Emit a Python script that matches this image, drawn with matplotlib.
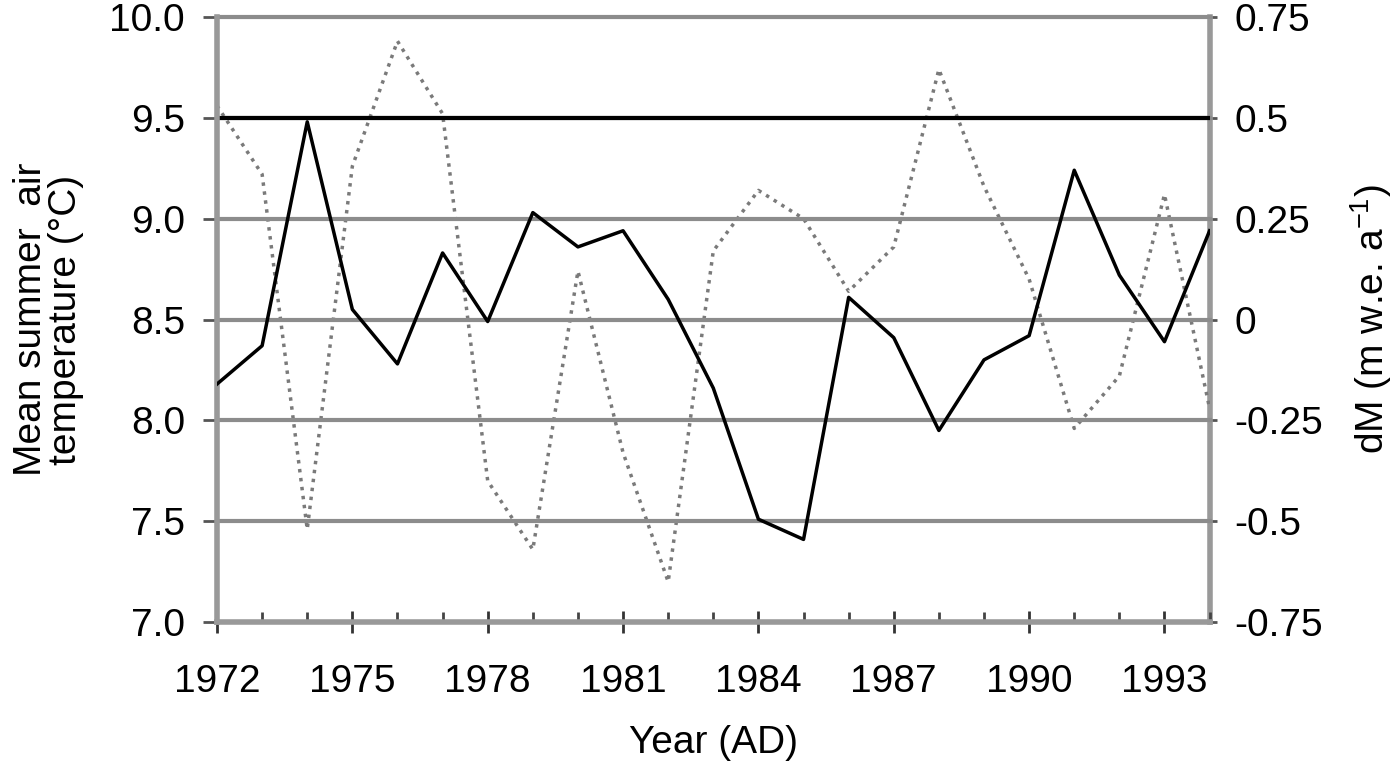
import matplotlib
matplotlib.use("Agg")
import matplotlib.pyplot as plt

# -----------------------------
# DATA
# -----------------------------
years = list(range(1972, 1995))

# mean summer air temperature (deg C), left axis
temperature = [8.18, 8.37, 9.48, 8.55, 8.28, 8.83, 8.49, 9.03, 8.86, 8.94,
               8.60, 8.16, 7.51, 7.41, 8.61, 8.41, 7.95, 8.30, 8.42, 9.24,
               8.72, 8.39, 8.94]

# mass balance dM (m w.e. a-1), right axis
mass_balance = [0.53, 0.36, -0.52, 0.38, 0.69, 0.51, -0.40, -0.57, 0.12, -0.33,
                -0.65, 0.17, 0.32, 0.25, 0.07, 0.18, 0.62, 0.33, 0.10, -0.27,
                -0.14, 0.31, -0.22]

year_ticks = [1972, 1975, 1978, 1981, 1984, 1987, 1990, 1993]
temp_ticks = [7.0, 7.5, 8.0, 8.5, 9.0, 9.5, 10.0]
dm_ticks = [-0.75, -0.5, -0.25, 0, 0.25, 0.5, 0.75]
dm_labels = ["-0.75", "-0.5", "-0.25", "0", "0.25", "0.5", "0.75"]
highlight_temp = 9.5

# -----------------------------
# STYLE
# -----------------------------
plt.rcParams['font.family'] = ['Liberation Sans', 'DejaVu Sans']
plt.rcParams['mathtext.fontset'] = 'custom'
plt.rcParams['mathtext.rm'] = 'Liberation Sans'
plt.rcParams['mathtext.it'] = 'Liberation Sans'
FS = 28
GRID_GREY = "#8c8c8c"

fig = plt.figure(figsize=(14, 7.69), dpi=100)
ax = fig.add_axes([0.155, 0.191, 0.709, 0.787])
ax2 = ax.twinx()

# gridlines
for t in temp_ticks[1:]:
    ax.axhline(t, color=GRID_GREY, lw=3, zorder=1, clip_on=False)
ax.axhline(highlight_temp, color="black", lw=3, zorder=1.5)

# series
ax2.plot(years, mass_balance, color="#7a7a7a", lw=2.5, ls=(0, (1, 1.6)), zorder=3)
ax.plot(years, temperature, color="black", lw=2.5, zorder=4)
ax.set_zorder(ax2.get_zorder() + 1)
ax.patch.set_visible(False)

# axes limits / ticks
ax.set_xlim(1972, 1994)
ax.set_ylim(7.0, 10.0)
ax2.set_ylim(-0.75, 0.75)

ax.set_xticks(year_ticks)
ax.set_xticks(years, minor=True)
ax.set_yticks(temp_ticks)
ax.set_yticklabels([f"{t:.1f}" for t in temp_ticks])
ax2.set_yticks(dm_ticks)
ax2.set_yticklabels(dm_labels)

ax.tick_params(axis="x", which="major", direction="inout", length=16, width=2,
               color="#333333", labelsize=FS, pad=22)
ax.tick_params(axis="x", which="minor", direction="in", length=7, width=2,
               color="#444444")
ax.tick_params(axis="y", direction="out", length=10, width=2,
               color="#555555", labelsize=FS, pad=13)
ax2.tick_params(axis="y", direction="out", length=5, width=2,
                color="#555555", labelsize=FS, pad=13)

for a in (ax, ax2):
    for side in ("left", "right", "bottom"):
        a.spines[side].set_color("#999999")
        a.spines[side].set_linewidth(4)
    a.spines["top"].set_visible(False)
ax.spines["right"].set_visible(False)
ax2.spines["left"].set_visible(False)
ax2.spines["bottom"].set_visible(False)

# labels
ax.set_xlabel("Year (AD)", fontsize=FS, labelpad=18)
ax.set_ylabel("Mean summer  air\ntemperature (°C)", fontsize=FS,
              linespacing=0.95)
ax.yaxis.set_label_coords(-0.134, 0.5)
ax2.set_ylabel("dM (m w.e. a$^{-1}$)", fontsize=FS)
ax2.yaxis.set_label_coords(1.14, 0.5)

fig.savefig("out.png", dpi=100)
